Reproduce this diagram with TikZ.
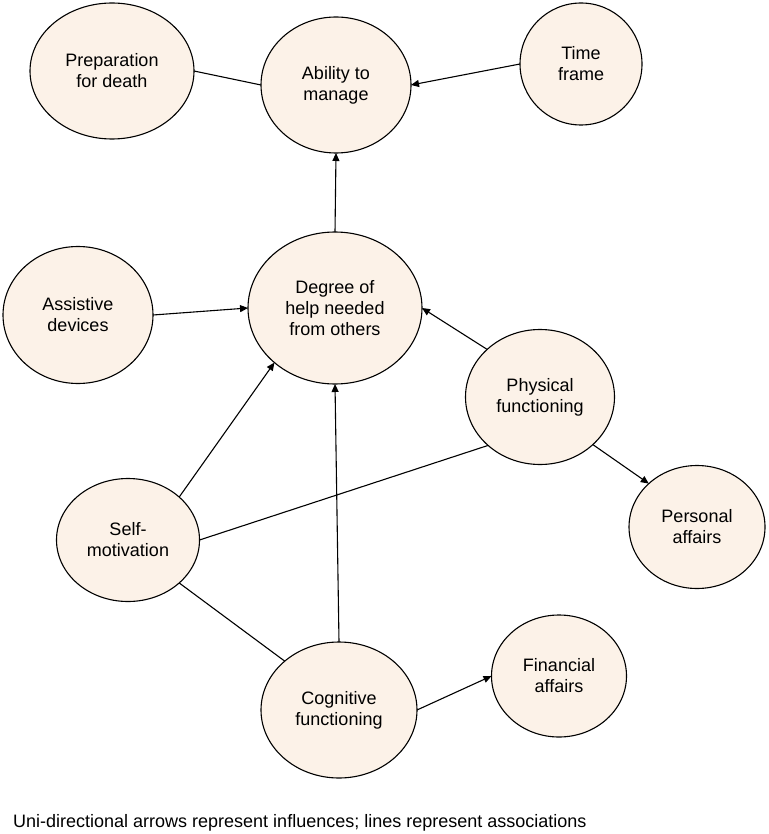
\documentclass[tikz,border=0pt]{standalone}
\usepackage{fontspec}
\setmainfont{Liberation Sans}
\usepackage{tikz}
\usetikzlibrary{shapes.geometric,arrows.meta}
\definecolor{bubblefill}{RGB}{252,242,232}

\begin{document}
\begin{tikzpicture}[x=1pt,y=-1pt,
	bubble/.style={ellipse,draw,fill=bubblefill,line width=1.1pt,inner sep=0pt,outer sep=0pt,align=center,font=\fontsize{18}{21}\selectfont},
	infl/.style={-{Triangle[length=8pt,width=7pt]},line width=1.1pt},
	assoc/.style={line width=1.1pt}]
				\useasboundingbox (0,0) rectangle (768,834);
				\node[bubble,minimum width=164pt,minimum height=136pt] (prep) at (112,71) {Preparation\\for death};
				\node[bubble,minimum width=150pt,minimum height=136pt] (ability) at (336,85) {Ability to\\manage};
				\node[bubble,minimum width=122pt,minimum height=122pt] (timeframe) at (581,64) {Time\\frame};
				\node[bubble,minimum width=150pt,minimum height=137pt] (assistive) at (78,315) {Assistive\\devices};
				\node[bubble,minimum width=174pt,minimum height=152pt] (degree) at (335,308) {Degree of\\help needed\\from others};
				\node[bubble,minimum width=149pt,minimum height=135pt] (physical) at (540,397) {Physical\\functioning};
				\node[bubble,minimum width=143pt,minimum height=123pt] (selfmot) at (128,540) {Self-\\motivation};
				\node[bubble,minimum width=136pt,minimum height=123pt] (personal) at (697,527) {Personal\\affairs};
				\node[bubble,minimum width=156pt,minimum height=136pt] (cognitive) at (339,710) {Cognitive\\functioning};
				\node[bubble,minimum width=135pt,minimum height=122pt] (financial) at (559,676) {Financial\\affairs};
				
				\draw[assoc] (prep.0) -- (ability.180);
				\draw[infl] (timeframe.180) -- (ability.0);
				\draw[infl] (degree.90) -- (ability.270);
				\draw[infl] (assistive.0) -- (degree.180);
				\draw[infl] (selfmot.40) -- (degree.222);
				\draw[infl] (cognitive.90) -- (degree.270);
				\draw[infl] (physical.138) -- (degree.0);
				\draw[assoc] (selfmot.0) -- (physical.223);
				\draw[infl] (physical.318) -- (personal.138);
				\draw[assoc] (selfmot.320) -- (cognitive.138);
				\draw[infl] (cognitive.0) -- (financial.180);
				
				\node[anchor=base west,inner sep=0pt,font=\fontsize{18}{21}\selectfont] (caption) at (13,827) {Uni-directional arrows represent influences; lines represent associations};
				\end{tikzpicture}
\end{document}
